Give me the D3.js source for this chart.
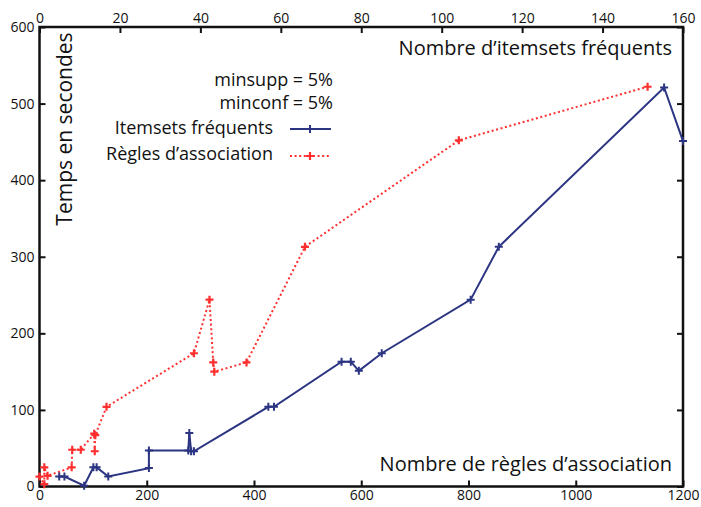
<!DOCTYPE html>
<html>
<head>
<meta charset="utf-8">
<script src="https://cdn.jsdelivr.net/npm/d3@7"></script>
<style>
  body { margin: 0; background: #fff; }
  text { font-family: "Open Sans", sans-serif; fill: #111; }
</style>
</head>
<body>
<div id="chart"></div>
<script>
// Itemsets fréquents (top axis: number of itemsets)
var itemX = [4.9, 6.2, 11.1, 13.4, 14.2, 17.1, 27.2, 27.2, 37, 37.25, 37.7, 38.4, 56.9, 58.3, 75.1, 77.4, 79.4, 85.1, 107.2, 114.2, 155.3, 160];
var itemY = [13, 13, 1, 25, 25, 13, 24, 47, 47, 70, 46, 46, 104, 104, 163, 163, 151, 174, 244, 313, 521, 451];

// Règles d'association (bottom axis: number of rules)
var ruleX = [0, 9, 9, 15, 60, 61, 77, 102, 103, 104, 125, 288, 317, 324, 326, 386, 495, 782, 1134];
var ruleY = [13, 3, 25, 14, 25, 48, 48, 69, 46, 67, 104, 174, 244, 162, 150, 162, 313, 452, 522];

var yTicks = [0, 100, 200, 300, 400, 500, 600];
var topTicks = [0, 20, 40, 60, 80, 100, 120, 140, 160];
var bottomTicks = [0, 200, 400, 600, 800, 1000, 1200];

var width = 701,
    height = 507;

var mLeft = 39.5, mRight = 683, mTop = 27, mBottom = 486.5;

var svg = d3.select("#chart").append("svg")
    .attr("width", width)
    .attr("height", height);

var y = d3.scaleLinear().domain([0, 600]).range([mBottom, mTop]);
var xTop = d3.scaleLinear().domain([0, 160]).range([mLeft, mRight]);
var xBottom = d3.scaleLinear().domain([0, 1200]).range([mLeft, mRight]);

var blue = "#2b3582",
    red = "#ff2f2f";

// axes, ticks pointing inward
function styleAxis(g) {
  g.select(".domain").remove();
  g.selectAll(".tick line").attr("stroke", "#111").attr("stroke-width", 2);
  g.selectAll(".tick text").style("font-size", "14px").style("fill", "#111");
}

svg.append("g")
    .attr("transform", "translate(" + mLeft + ",0)")
    .call(d3.axisLeft(y).tickValues(yTicks).tickSize(-6).tickPadding(5).tickFormat(d3.format("d")))
    .call(styleAxis);

svg.append("g")
    .attr("transform", "translate(" + mRight + ",0)")
    .call(d3.axisRight(y).tickValues(yTicks).tickSize(-6).tickFormat(""))
    .call(styleAxis);

svg.append("g")
    .attr("transform", "translate(0," + mTop + ")")
    .call(d3.axisTop(xTop).tickValues(topTicks).tickSize(-6).tickPadding(4).tickFormat(d3.format("d")))
    .call(styleAxis);

svg.append("g")
    .attr("transform", "translate(0," + mBottom + ")")
    .call(d3.axisBottom(xBottom).tickValues(bottomTicks).tickSize(-6).tickPadding(4).tickFormat(d3.format("d")))
    .call(styleAxis);

// frame
svg.append("rect")
    .attr("x", mLeft)
    .attr("y", mTop)
    .attr("width", mRight - mLeft)
    .attr("height", mBottom - mTop)
    .attr("fill", "none")
    .attr("stroke", "#111")
    .attr("stroke-width", 2.5);

// series
var itemData = itemX.map(function(d, i) { return [xTop(d), y(itemY[i])]; });
var ruleData = ruleX.map(function(d, i) { return [xBottom(d), y(ruleY[i])]; });

var line = d3.line();

svg.append("path")
    .attr("d", line(ruleData))
    .attr("fill", "none")
    .attr("stroke", red)
    .attr("stroke-width", 2)
    .attr("stroke-dasharray", "2,2.6");

svg.append("path")
    .attr("d", line(itemData))
    .attr("fill", "none")
    .attr("stroke", blue)
    .attr("stroke-width", 2);

function plus(sel, color, s, w) {
  sel.append("path")
    .attr("d", function(d) {
      return "M" + (d[0] - s) + "," + d[1] + "h" + (2 * s) +
             "M" + d[0] + "," + (d[1] - s) + "v" + (2 * s);
    })
    .attr("stroke", color)
    .attr("stroke-width", w)
    .attr("fill", "none");
}

svg.append("g").selectAll("g")
    .data(ruleData)
    .enter().append("g")
    .call(plus, red, 4, 2.2);

svg.append("g").selectAll("g")
    .data(itemData)
    .enter().append("g")
    .call(plus, blue, 4, 2);

// axis titles
svg.append("text")
    .attr("x", 672)
    .attr("y", 55)
    .attr("text-anchor", "end")
    .style("font-size", "20px")
    .text("Nombre d\u2019itemsets fréquents");

svg.append("text")
    .attr("x", 672)
    .attr("y", 471)
    .attr("text-anchor", "end")
    .style("font-size", "20px")
    .text("Nombre de règles d\u2019association");

svg.append("text")
    .attr("transform", "translate(72,129) rotate(-90)")
    .attr("text-anchor", "middle")
    .style("font-size", "21px")
    .text("Temps en secondes");

// legend
var legend = svg.append("g");

legend.append("text").attr("x", 333).attr("y", 86)
    .attr("text-anchor", "end").style("font-size", "18px").text("minsupp = 5%");
legend.append("text").attr("x", 333).attr("y", 109)
    .attr("text-anchor", "end").style("font-size", "18px").text("minconf = 5%");
legend.append("text").attr("x", 273).attr("y", 134)
    .attr("text-anchor", "end").style("font-size", "18px").text("Itemsets fréquents");
legend.append("text").attr("x", 273).attr("y", 160)
    .attr("text-anchor", "end").style("font-size", "18px").text("Règles d\u2019association");

legend.append("line")
    .attr("x1", 290).attr("x2", 331).attr("y1", 129).attr("y2", 129)
    .attr("stroke", blue).attr("stroke-width", 2);
legend.append("g").datum([310, 129]).call(plus, blue, 4, 2);

legend.append("line")
    .attr("x1", 290).attr("x2", 330).attr("y1", 156).attr("y2", 156)
    .attr("stroke", red).attr("stroke-width", 2).attr("stroke-dasharray", "2,2.6");
legend.append("g").datum([310, 156]).call(plus, red, 4, 2.2);
</script>
</body>
</html>
